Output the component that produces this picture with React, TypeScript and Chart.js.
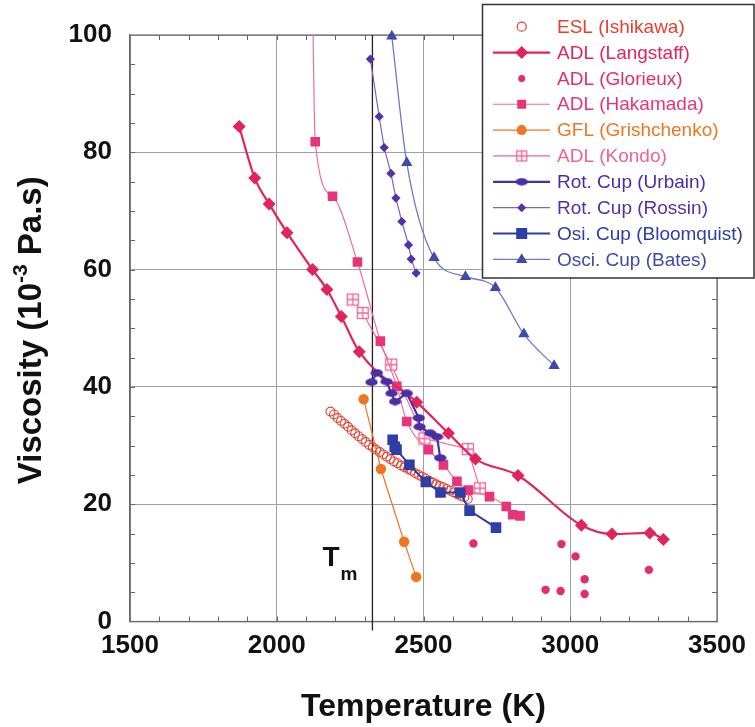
import React, { useEffect, useRef } from 'react';
import { Chart, registerables } from 'chart.js';

Chart.register(...registerables);

// ---- axis definitions ----
const X_MIN = 1500;
const X_MAX = 3500;
const X_STEP = 500;
const Y_MIN = 0;
const Y_MAX = 100;
const Y_STEP = 20;
const X_MINOR = 100;
const Y_MINOR = 5;
const T_MELT = 2326;
const X_TITLE = 'Temperature (K)';
const Y_TITLE_A = 'Viscosity (10';
const Y_TITLE_SUP = '-3';
const Y_TITLE_B = ' Pa.s)';

// ---- series ----
const eslT = [2183, 2195, 2207, 2219, 2231, 2243, 2255, 2267, 2279, 2291, 2303, 2315, 2327, 2339, 2351, 2363, 2375, 2387, 2399, 2411, 2423, 2435, 2447, 2459, 2471, 2483, 2495, 2507, 2519, 2531, 2543, 2555, 2567, 2579, 2591, 2603, 2615, 2627, 2639, 2651];
const eslV = [35.8, 35.3, 34.7, 34.2, 33.7, 33.2, 32.6, 32.1, 31.6, 31.1, 30.6, 30.1, 29.7, 29.3, 28.9, 28.5, 28.1, 27.7, 27.3, 27.0, 26.6, 26.3, 26.0, 25.7, 25.3, 25.0, 24.7, 24.4, 24.0, 23.7, 23.4, 23.1, 22.9, 22.6, 22.3, 22.0, 21.7, 21.4, 21.2, 20.9];

const langstaffT = [1872, 1925, 1974, 2035, 2122, 2171, 2220, 2281, 2477, 2585, 2677, 2822, 3038, 3142, 3271, 3317];
const langstaffV = [84.4, 75.6, 71.2, 66.3, 60.0, 56.6, 52.0, 46.0, 37.4, 32.1, 27.7, 24.9, 16.4, 14.9, 15.1, 14.0];

const glorieuxT = [2670, 2916, 2967, 2970, 3018, 3049, 3049, 3268];
const glorieuxV = [13.3, 5.4, 5.2, 13.2, 11.1, 7.2, 4.7, 8.8];

const hakamadaT = [2118, 2131, 2190, 2275, 2353, 2409, 2443, 2517, 2568, 2614, 2653, 2725, 2782, 2804, 2829];
const hakamadaV = [122, 81.8, 72.5, 61.3, 47.8, 40.1, 34.1, 29.3, 26.7, 23.9, 22.4, 21.3, 19.6, 18.2, 18.0];

const grishT = [2296, 2355, 2434, 2475];
const grishV = [37.9, 26.0, 13.6, 7.6];

const kondoT = [2259, 2293, 2390, 2503, 2651, 2692];
const kondoV = [54.9, 52.6, 43.8, 31.2, 29.4, 22.7];

const urbainT = [2323, 2341, 2374, 2391, 2403, 2443, 2484, 2487, 2523, 2546, 2557];
const urbainV = [40.8, 42.4, 40.9, 38.9, 37.5, 38.9, 34.7, 33.2, 32.1, 31.5, 27.9];

const rossinT = [2319, 2349, 2366, 2389, 2406, 2426, 2449, 2458, 2475];
const rossinV = [95.9, 86.1, 80.8, 76.4, 72.2, 68.2, 64.2, 61.8, 59.4];

const bloomT = [2395, 2402, 2408, 2452, 2508, 2558, 2625, 2657, 2747];
const bloomV = [31.0, 29.8, 29.3, 26.7, 23.8, 22.0, 22.0, 18.9, 16.0];

const batesT = [2392, 2443, 2536, 2643, 2745, 2842, 2945];
const batesV = [99.8, 78.2, 62.0, 58.8, 56.9, 49.0, 43.6];

const LABELS = [
  'ESL (Ishikawa)',
  'ADL (Langstaff)',
  'ADL (Glorieux)',
  'ADL (Hakamada)',
  'GFL (Grishchenko)',
  'ADL (Kondo)',
  'Rot. Cup (Urbain)',
  'Rot. Cup (Rossin)',
  'Osi. Cup (Bloomquist)',
  'Osci. Cup (Bates)',
];

const C = {
  esl: '#E4402F',
  lang: '#E2245C',
  glor: '#E52C6C',
  haka: '#E8357A',
  hakaLine: '#EF6E9C',
  grish: '#EE7622',
  kondo: '#EE6497',
  urb: '#4A2EA6',
  ross: '#5232A8',
  rossLine: '#7C62C4',
  bloom: '#2F3EA4',
  bates: '#3E4AAA',
  batesLine: '#7079C6',
};

const FONT = '"Liberation Sans", Arial, Helvetica, sans-serif';

function pts(xs: number[], ys: number[]) {
  return xs.map((x, i) => ({ x, y: ys[i] }));
}

function makeEllipse(color: string, w: number, h: number) {
  const c = document.createElement('canvas');
  c.width = w;
  c.height = h;
  const g = c.getContext('2d')!;
  g.fillStyle = color;
  g.beginPath();
  g.ellipse(w / 2, h / 2, w / 2 - 0.3, h / 2 - 0.3, 0, 0, Math.PI * 2);
  g.fill();
  return c;
}

function makeKondo(color: string, s: number) {
  const c = document.createElement('canvas');
  c.width = s;
  c.height = s;
  const g = c.getContext('2d')!;
  g.fillStyle = '#ffffff';
  g.fillRect(1, 1, s - 2, s - 2);
  g.strokeStyle = color;
  g.lineWidth = 1.3;
  g.strokeRect(1.5, 1.5, s - 3, s - 3);
  g.beginPath();
  g.moveTo(s / 2, 1.5);
  g.lineTo(s / 2, s - 1.5);
  g.moveTo(1.5, s / 2);
  g.lineTo(s - 1.5, s / 2);
  g.stroke();
  return c;
}

type Kind = 'hollow' | 'diamond' | 'dot' | 'square' | 'circle' | 'kondo' | 'ellipse' | 'triangle';

function drawMarker(ctx: CanvasRenderingContext2D, kind: Kind, x: number, y: number, color: string, r: number, img?: HTMLCanvasElement) {
  ctx.save();
  ctx.fillStyle = color;
  ctx.strokeStyle = color;
  ctx.beginPath();
  if (kind === 'hollow') {
    ctx.lineWidth = 1.2;
    ctx.arc(x, y, r, 0, Math.PI * 2);
    ctx.fillStyle = '#fff';
    ctx.fill();
    ctx.stroke();
  } else if (kind === 'dot' || kind === 'circle') {
    ctx.arc(x, y, r, 0, Math.PI * 2);
    ctx.fill();
  } else if (kind === 'diamond') {
    ctx.moveTo(x, y - r);
    ctx.lineTo(x + r, y);
    ctx.lineTo(x, y + r);
    ctx.lineTo(x - r, y);
    ctx.closePath();
    ctx.fill();
  } else if (kind === 'square') {
    ctx.rect(x - r, y - r, 2 * r, 2 * r);
    ctx.fill();
  } else if (kind === 'triangle') {
    ctx.moveTo(x, y - r);
    ctx.lineTo(x + r * 0.95, y + r * 0.6);
    ctx.lineTo(x - r * 0.95, y + r * 0.6);
    ctx.closePath();
    ctx.fill();
  } else if ((kind === 'kondo' || kind === 'ellipse') && img) {
    ctx.drawImage(img, x - img.width / 2, y - img.height / 2);
  }
  ctx.restore();
}

export default function App() {
  const ref = useRef<HTMLCanvasElement | null>(null);

  useEffect(() => {
    const canvas = ref.current;
    if (!canvas) return;

    const ellipseImg = makeEllipse(C.urb, 13, 8);
    const ellipseLeg = makeEllipse(C.urb, 13, 8);
    const kondoImg = makeKondo(C.kondo, 14);
    const kondoLeg = makeKondo(C.kondo, 13);

    const legendItems: { label: string; color: string; line: string | null; lw: number; kind: Kind; r: number; img?: HTMLCanvasElement }[] = [
      { label: LABELS[0], color: C.esl, line: null, lw: 0, kind: 'hollow', r: 4.5 },
      { label: LABELS[1], color: C.lang, line: C.lang, lw: 2.2, kind: 'diamond', r: 6.5 },
      { label: LABELS[2], color: C.glor, line: null, lw: 0, kind: 'dot', r: 3.5 },
      { label: LABELS[3], color: C.haka, line: C.hakaLine, lw: 1.2, kind: 'square', r: 4.5 },
      { label: LABELS[4], color: C.grish, line: C.grish, lw: 1.2, kind: 'circle', r: 5 },
      { label: LABELS[5], color: C.kondo, line: C.kondo, lw: 1.2, kind: 'kondo', r: 6, img: kondoLeg },
      { label: LABELS[6], color: C.urb, line: C.urb, lw: 2.2, kind: 'ellipse', r: 6, img: ellipseLeg },
      { label: LABELS[7], color: C.ross, line: C.rossLine, lw: 1.2, kind: 'diamond', r: 4.5 },
      { label: LABELS[8], color: C.bloom, line: C.bloom, lw: 2, kind: 'square', r: 5.5 },
      { label: LABELS[9], color: C.bates, line: C.batesLine, lw: 1.3, kind: 'triangle', r: 6 },
    ];

    const decor = {
      id: 'decor',
      beforeDatasetsDraw(chart: any) {
        const { ctx, chartArea: a, scales } = chart;
        const xs = scales.x;
        const ys = scales.y;
        ctx.save();
        // frame
        ctx.strokeStyle = '#6a6a6a';
        ctx.lineWidth = 1.2;
        ctx.strokeRect(a.left, a.top, a.right - a.left, a.bottom - a.top);
        // minor ticks
        ctx.strokeStyle = '#666';
        ctx.lineWidth = 1;
        ctx.beginPath();
        for (let t = X_MIN + X_MINOR; t < X_MAX; t += X_MINOR) {
          const px = Math.round(xs.getPixelForValue(t)) + 0.5;
          ctx.moveTo(px, a.bottom);
          ctx.lineTo(px, a.bottom - 5);
          ctx.moveTo(px, a.top);
          ctx.lineTo(px, a.top + 5);
        }
        for (let v = Y_MIN + Y_MINOR; v < Y_MAX; v += Y_MINOR) {
          const py = Math.round(ys.getPixelForValue(v)) + 0.5;
          ctx.moveTo(a.left, py);
          ctx.lineTo(a.left + 5, py);
          ctx.moveTo(a.right, py);
          ctx.lineTo(a.right - 5, py);
        }
        ctx.stroke();
        // melting point line
        const tx = xs.getPixelForValue(T_MELT);
        ctx.strokeStyle = '#222';
        ctx.lineWidth = 1.3;
        ctx.beginPath();
        ctx.moveTo(tx, a.top);
        ctx.lineTo(tx, a.bottom + 9);
        ctx.stroke();
        // T_m label
        ctx.fillStyle = '#111';
        ctx.textBaseline = 'alphabetic';
        ctx.textAlign = 'left';
        ctx.font = `bold 28px ${FONT}`;
        const by = ys.getPixelForValue(9.4);
        ctx.fillText('T', tx - 50, by);
        ctx.font = `bold 19px ${FONT}`;
        ctx.fillText('m', tx - 32, by + 14);
        // y title (with superscript)
        ctx.save();
        const cy = (a.top + a.bottom) / 2 + 2;
        ctx.translate(32, cy);
        ctx.rotate(-Math.PI / 2);
        const big = `bold 33px ${FONT}`;
        const small = `bold 21px ${FONT}`;
        ctx.font = big;
        const wA = ctx.measureText(Y_TITLE_A).width;
        const wB = ctx.measureText(Y_TITLE_B).width;
        ctx.font = small;
        const wS = ctx.measureText(Y_TITLE_SUP).width;
        const total = wA + wS + wB;
        let sx = -total / 2;
        ctx.textBaseline = 'middle';
        ctx.font = big;
        ctx.fillText(Y_TITLE_A, sx, 0);
        sx += wA;
        ctx.font = small;
        ctx.fillText(Y_TITLE_SUP, sx, -11);
        sx += wS;
        ctx.font = big;
        ctx.fillText(Y_TITLE_B, sx, 0);
        ctx.restore();
        ctx.restore();
      },
      afterDraw(chart: any) {
        const { ctx } = chart;
        ctx.save();
        // legend box
        ctx.fillStyle = '#ffffff';
        ctx.fillRect(482, 4, 273, 274);
        ctx.strokeStyle = '#333';
        ctx.lineWidth = 1.5;
        ctx.strokeRect(482.5, 4.5, 271.5, 273.5);
        legendItems.forEach((it, i) => {
          const y = 26.7 + i * 25.85;
          if (it.line) {
            ctx.strokeStyle = it.line;
            ctx.lineWidth = it.lw;
            ctx.beginPath();
            ctx.moveTo(493, y);
            ctx.lineTo(550, y);
            ctx.stroke();
          }
          drawMarker(ctx, it.kind, 521.7, y, it.color, it.r, it.img);
          ctx.fillStyle = it.color;
          ctx.font = `19px ${FONT}`;
          ctx.textBaseline = 'middle';
          ctx.textAlign = 'left';
          ctx.fillText(it.label, 557, y + 1);
        });
        ctx.restore();
      },
    };

    const chart = new Chart(canvas, {
      type: 'scatter',
      data: {
        datasets: [
          {
            label: LABELS[0],
            data: pts(eslT, eslV),
            showLine: false,
            pointStyle: 'circle',
            pointRadius: 4.4,
            pointBackgroundColor: 'rgba(255,255,255,0)',
            pointBorderColor: C.esl,
            pointBorderWidth: 1.1,
            order: 6,
          },
          {
            label: LABELS[1],
            data: pts(langstaffT, langstaffV),
            showLine: true,
            borderColor: C.lang,
            borderWidth: 2.2,
            cubicInterpolationMode: 'monotone',
            pointStyle: 'rectRot',
            pointRadius: 6.5,
            pointBackgroundColor: C.lang,
            pointBorderColor: C.lang,
            pointBorderWidth: 0,
            order: 2,
          },
          {
            label: LABELS[2],
            data: pts(glorieuxT, glorieuxV),
            showLine: false,
            pointStyle: 'circle',
            pointRadius: 4.2,
            pointBackgroundColor: C.glor,
            pointBorderColor: C.glor,
            pointBorderWidth: 0,
            order: 7,
          },
          {
            label: LABELS[3],
            data: pts(hakamadaT, hakamadaV),
            showLine: true,
            borderColor: C.hakaLine,
            borderWidth: 1.2,
            cubicInterpolationMode: 'monotone',
            pointStyle: 'rect',
            pointRadius: 6.8,
            pointBackgroundColor: C.haka,
            pointBorderColor: C.haka,
            pointBorderWidth: 0,
            order: 3,
          },
          {
            label: LABELS[4],
            data: pts(grishT, grishV),
            showLine: true,
            borderColor: C.grish,
            borderWidth: 1.2,
            pointStyle: 'circle',
            pointRadius: 5.2,
            pointBackgroundColor: C.grish,
            pointBorderColor: C.grish,
            pointBorderWidth: 0,
            order: 5,
          },
          {
            label: LABELS[5],
            data: pts(kondoT, kondoV),
            showLine: true,
            borderColor: C.kondo,
            borderWidth: 1.1,
            pointStyle: kondoImg,
            pointRadius: 6,
            order: 4,
          },
          {
            label: LABELS[6],
            data: pts(urbainT, urbainV),
            showLine: true,
            borderColor: C.urb,
            borderWidth: 2.2,
            pointStyle: ellipseImg,
            pointRadius: 6,
            order: 1,
          },
          {
            label: LABELS[7],
            data: pts(rossinT, rossinV),
            showLine: true,
            borderColor: C.rossLine,
            borderWidth: 1.2,
            pointStyle: 'rectRot',
            pointRadius: 4.6,
            pointBackgroundColor: C.ross,
            pointBorderColor: C.ross,
            pointBorderWidth: 0,
            order: 8,
          },
          {
            label: LABELS[8],
            data: pts(bloomT, bloomV),
            showLine: true,
            borderColor: C.bloom,
            borderWidth: 2,
            pointStyle: 'rect',
            pointRadius: 7.5,
            pointBackgroundColor: C.bloom,
            pointBorderColor: C.bloom,
            pointBorderWidth: 0,
            order: 0,
          },
          {
            label: LABELS[9],
            data: pts(batesT, batesV),
            showLine: true,
            borderColor: C.batesLine,
            borderWidth: 1.3,
            cubicInterpolationMode: 'monotone',
            pointStyle: 'triangle',
            pointRadius: 6.5,
            pointBackgroundColor: C.bates,
            pointBorderColor: C.bates,
            pointBorderWidth: 0,
            clip: 10,
            order: 9,
          },
        ],
      },
      options: {
        responsive: false,
        animation: false,
        events: [],
        layout: { padding: { top: 35, right: 38, left: 0, bottom: 0 } },
        plugins: {
          legend: { display: false },
          tooltip: { enabled: false },
          title: { display: false },
        },
        scales: {
          x: {
            type: 'linear',
            min: X_MIN,
            max: X_MAX,
            ticks: {
              stepSize: X_STEP,
              color: '#111',
              font: { family: FONT, size: 26, weight: 'bold' },
              padding: 9,
              maxRotation: 0,
              callback: (v: any) => String(v),
            },
            grid: { color: '#a0a0a0', lineWidth: 1, drawTicks: false },
            border: { display: true, color: '#6a6a6a', width: 1.2 },
            title: {
              display: true,
              text: X_TITLE,
              color: '#111',
              font: { family: FONT, size: 32, weight: 'bold' },
              padding: { top: 0, bottom: 1 },
            },
            afterFit: (s: any) => {
              s.height = 105.5;
            },
          },
          y: {
            type: 'linear',
            min: Y_MIN,
            max: Y_MAX,
            ticks: {
              stepSize: Y_STEP,
              color: '#111',
              font: { family: FONT, size: 26, weight: 'bold' },
              padding: 18,
              callback: (v: any) => String(v),
            },
            grid: { color: '#a0a0a0', lineWidth: 1, drawTicks: false },
            border: { display: true, color: '#6a6a6a', width: 1.2 },
            afterFit: (s: any) => {
              s.width = 130;
            },
          },
        },
      },
      plugins: [decor],
    } as any);

    return () => {
      chart.destroy();
    };
  }, []);

  return (
    <div style={{ position: 'fixed', left: 0, top: 0, width: 755, height: 727, background: '#fff' }}>
      <canvas ref={ref} width={755} height={727} style={{ display: 'block', width: 755, height: 727 }} />
    </div>
  );
}
